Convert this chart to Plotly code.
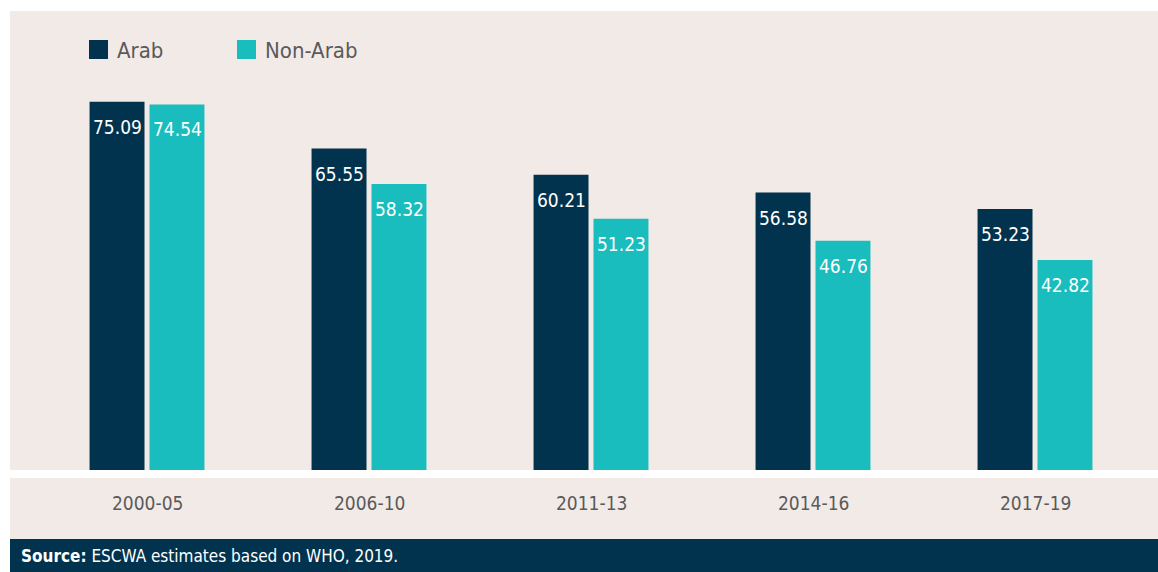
import plotly.graph_objects as go

categories = ["2000-05", "2006-10", "2011-13", "2014-16", "2017-19"]
arab = [75.09, 65.55, 60.21, 56.58, 53.23]
non_arab = [74.54, 58.32, 51.23, 46.76, 42.82]
series_names = ["Arab", "Non-Arab"]
source_text = "<b>Source:</b> ESCWA estimates based on WHO, 2019."

W, H = 1158, 572
ML, MR, MT, MB = 36, 12, 11, 102
PW = W - ML - MR
PH = H - MT - MB

NAVY = "#01334f"
TEAL = "#1abdbd"
PINK = "#f2eae7"
GREY = "#5a5a5a"
FONT = "DejaVu Sans Condensed, sans-serif"


def px_x(x):
    return (x - ML) / PW


def px_y(y):
    return (H - MB - y) / PH


fig = go.Figure()
fig.add_trace(go.Bar(x=categories, y=arab, name=series_names[0], marker_color=NAVY,
                     marker_line_width=0))
fig.add_trace(go.Bar(x=categories, y=non_arab, name=series_names[1], marker_color=TEAL,
                     marker_line_width=0))

shapes = [
    dict(type="rect", xref="paper", yref="paper", x0=px_x(10), x1=px_x(1158),
         y0=px_y(470), y1=px_y(11), fillcolor=PINK, line_width=0, layer="below"),
    dict(type="rect", xref="paper", yref="paper", x0=px_x(10), x1=px_x(1158),
         y0=px_y(539), y1=px_y(478), fillcolor=PINK, line_width=0, layer="below"),
    dict(type="rect", xref="paper", yref="paper", x0=px_x(10), x1=px_x(1158),
         y0=px_y(572), y1=px_y(539), fillcolor=NAVY, line_width=0, layer="below"),
]

annotations = []
# legend
leg = [(89, NAVY, series_names[0]), (237, TEAL, series_names[1])]
for lx, col, name in leg:
    shapes.append(dict(type="rect", xref="paper", yref="paper", x0=px_x(lx), x1=px_x(lx + 19),
                       y0=px_y(59), y1=px_y(40), fillcolor=col, line_width=0))
    annotations.append(dict(x=px_x(lx + 26), y=px_y(50), xref="paper", yref="paper",
                            text=name, showarrow=False, xanchor="left", yanchor="middle",
                            font=dict(family=FONT, size=22, color=GREY)))

# value labels
for vals, dx in ((arab, -30), (non_arab, 30)):
    for c, v in zip(categories, vals):
        annotations.append(dict(x=c, y=v, xref="x", yref="y", text=f"{v:.2f}",
                                showarrow=False, xshift=dx, yanchor="top", yshift=-12,
                                font=dict(family=FONT, size=19, color="white")))

# category labels
for c in categories:
    annotations.append(dict(x=c, y=px_y(503), xref="x", yref="paper", text=c,
                            showarrow=False, yanchor="middle",
                            font=dict(family=FONT, size=19, color=GREY)))

annotations.append(dict(x=px_x(19), y=px_y(556), xref="paper", yref="paper", text=source_text,
                        showarrow=False, xanchor="left", yanchor="middle",
                        font=dict(family=FONT, size=17, color="white")))

fig.update_layout(
    width=W, height=H,
    margin=dict(l=ML, r=MR, t=MT, b=MB, pad=0),
    paper_bgcolor="white", plot_bgcolor=PINK,
    barmode="group", bargap=0.46, bargroupgap=0.083,
    showlegend=False,
    shapes=shapes, annotations=annotations,
    xaxis=dict(type="category", showticklabels=False, showgrid=False, zeroline=False,
               showline=False, ticks="", range=[-0.5, 4.5]),
    yaxis=dict(range=[0, 93.6], visible=False, showgrid=False, zeroline=False),
)

fig.write_html("out.html", config={"displayModeBar": False},
               post_script="document.body.style.margin='0';")
